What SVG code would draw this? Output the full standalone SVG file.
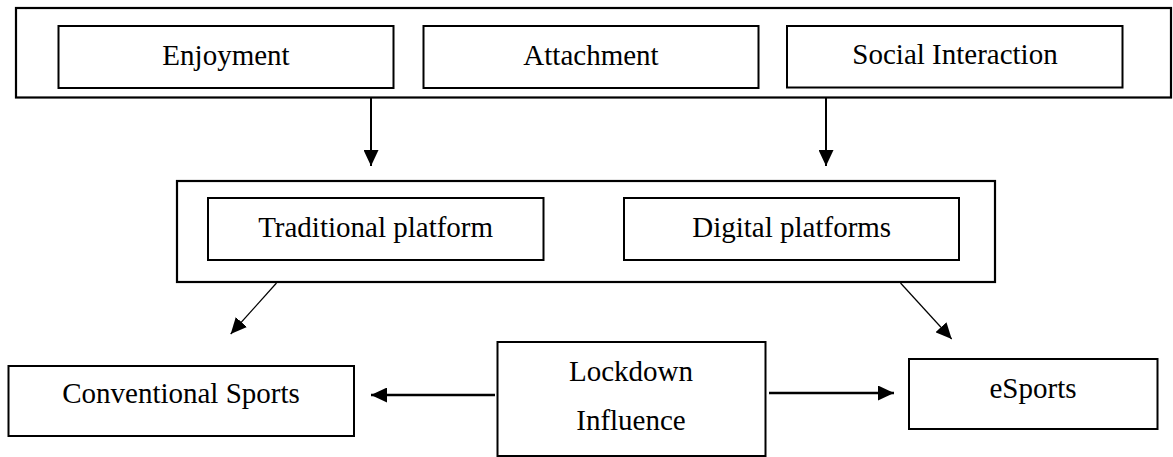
<svg xmlns="http://www.w3.org/2000/svg" width="1173" height="457" viewBox="0 0 1173 457">
<style>
.box{fill:none;stroke:#000;stroke-width:2}
.outer{fill:none;stroke:#000;stroke-width:2.2}
.lbl{font-family:"Liberation Serif","Times New Roman",serif;font-size:29px;fill:#000;text-anchor:middle}
.c{stroke:#000;fill:none}
</style>
<defs>
<marker id="ah" markerUnits="userSpaceOnUse" markerWidth="16" markerHeight="15" refX="16" refY="7.5" orient="auto">
<path d="M0,0 L16,7.5 L0,15 Z" fill="#000"/>
</marker>
</defs>
<rect width="1173" height="457" fill="#fff"/>
<g id="motives">
<rect class="outer" x="16" y="8" width="1155" height="89.5"/>
</g>
<g id="enjoyment">
<rect class="box" x="58.5" y="26" width="335" height="62"/>
<text class="lbl" x="226" y="65">Enjoyment</text>
</g>
<g id="attachment">
<rect class="box" x="423.5" y="26" width="335" height="62"/>
<text class="lbl" x="591" y="65">Attachment</text>
</g>
<g id="social">
<rect class="box" x="787" y="26" width="335.5" height="61.5"/>
<text class="lbl" x="955" y="64">Social Interaction</text>
</g>
<g id="platforms">
<rect class="outer" x="177" y="181" width="818" height="101"/>
</g>
<g id="traditional">
<rect class="box" x="208" y="198" width="335.5" height="62"/>
<text class="lbl" x="375.6" y="237">Traditional platform</text>
</g>
<g id="digital">
<rect class="box" x="624" y="198" width="335" height="62"/>
<text class="lbl" x="791.7" y="237">Digital platforms</text>
</g>
<g id="conventional">
<rect class="box" x="8.5" y="366" width="345.5" height="70"/>
<text class="lbl" x="181" y="403">Conventional Sports</text>
</g>
<g id="lockdown">
<rect class="box" x="497.5" y="342" width="268" height="114"/>
<text class="lbl" x="631" y="381">Lockdown</text>
<text class="lbl" x="631" y="430">Influence</text>
</g>
<g id="esports">
<rect class="box" x="909" y="359" width="248.5" height="70"/>
<text class="lbl" x="1033" y="398">eSports</text>
</g>
<g id="connectors">
<line class="c" stroke-width="2" x1="371" y1="98" x2="371" y2="166" marker-end="url(#ah)"/>
<line class="c" stroke-width="2" x1="826" y1="98" x2="826" y2="166" marker-end="url(#ah)"/>
<line class="c" stroke-width="1.2" x1="276.5" y1="283" x2="230.7" y2="334" marker-end="url(#ah)"/>
<line class="c" stroke-width="1.2" x1="900.5" y1="283" x2="951.7" y2="339" marker-end="url(#ah)"/>
<line class="c" stroke-width="2.5" x1="495" y1="395" x2="371" y2="395" marker-end="url(#ah)"/>
<line class="c" stroke-width="2.5" x1="769" y1="393" x2="894" y2="393" marker-end="url(#ah)"/>
</g>
</svg>
